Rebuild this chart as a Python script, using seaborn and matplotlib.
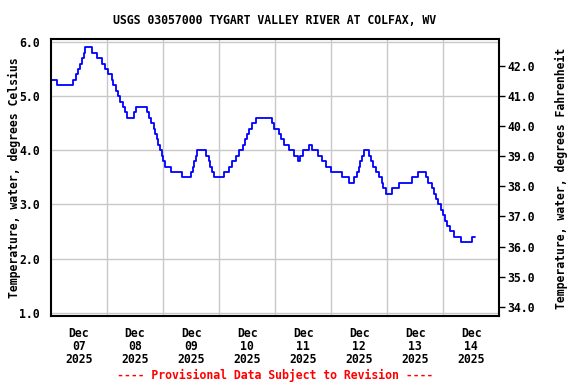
import numpy as np
import pandas as pd
import matplotlib
matplotlib.use("Agg")
import matplotlib.pyplot as plt
import matplotlib.dates as mdates
import seaborn as sns

# ---- data ----
start_time = "2025-12-07 00:00"
change_hours = [0, 2.7, 9.6, 10.7, 11.6, 12.4, 13.3, 14.0, 14.7, 17.6, 19.9, 21.7, 23.3,
                24.6, 26.1, 26.7, 28.0, 28.9, 29.6, 30.7, 31.7, 32.7, 35.6, 36.4, 41.0,
                42.1, 43.0, 43.9, 44.7, 45.3, 46.0, 46.7, 47.4, 47.9, 49.0, 51.3, 56.0,
                59.9, 60.7, 61.4, 62.0, 62.7, 66.4, 67.6, 68.1, 69.0, 69.9, 71.3, 74.1,
                76.1, 77.6, 79.3, 80.4, 82.2, 83.0, 83.9, 84.7, 86.1, 87.6, 94.7, 95.6,
                97.6, 98.4, 99.6, 101.9, 104.1, 105.6, 106.7, 107.9, 110.4, 111.6, 114.4,
                115.9, 117.6, 120.1, 124.7, 127.6, 129.9, 131.0, 131.9, 132.4, 133.0,
                134.1, 136.1, 137.0, 138.1, 139.3, 140.4, 141.6, 142.4, 143.3, 145.9,
                149.0, 154.7, 157.0, 160.4, 161.3, 163.0, 163.9, 164.7, 165.9, 167.0,
                167.9, 168.7, 169.6, 170.7, 172.7, 175.6, 180.2, 181.6]
temp_c = [5.3, 5.2, 5.3, 5.4, 5.5, 5.6, 5.7, 5.8, 5.9, 5.8, 5.7, 5.6, 5.5,
          5.4, 5.3, 5.2, 5.1, 5.0, 4.9, 4.8, 4.7, 4.6, 4.7, 4.8, 4.7,
          4.6, 4.5, 4.4, 4.3, 4.2, 4.1, 4.0, 3.9, 3.8, 3.7, 3.6, 3.5,
          3.6, 3.7, 3.8, 3.9, 4.0, 3.9, 3.8, 3.7, 3.6, 3.5, 3.5, 3.6,
          3.7, 3.8, 3.9, 4.0, 4.1, 4.2, 4.3, 4.4, 4.5, 4.6, 4.5, 4.4,
          4.3, 4.2, 4.1, 4.0, 3.9, 3.8, 3.9, 4.0, 4.1, 4.0, 3.9,
          3.8, 3.7, 3.6, 3.5, 3.4, 3.5, 3.6, 3.7, 3.8, 3.9,
          4.0, 3.9, 3.8, 3.7, 3.6, 3.5, 3.4, 3.3, 3.2, 3.3,
          3.4, 3.5, 3.6, 3.5, 3.4, 3.3, 3.2, 3.1, 3.0, 2.9,
          2.8, 2.7, 2.6, 2.5, 2.4, 2.3, 2.4, 2.4]
day_labels = ["Dec\n07\n2025", "Dec\n08\n2025", "Dec\n09\n2025", "Dec\n10\n2025",
              "Dec\n11\n2025", "Dec\n12\n2025", "Dec\n13\n2025", "Dec\n14\n2025"]
celsius_ticks = [1.0, 2.0, 3.0, 4.0, 5.0, 6.0]
fahrenheit_ticks = [34.0, 35.0, 36.0, 37.0, 38.0, 39.0, 40.0, 41.0, 42.0]

title = "USGS 03057000 TYGART VALLEY RIVER AT COLFAX, WV"
left_label = "Temperature, water, degrees Celsius"
right_label = "Temperature, water, degrees Fahrenheit"
footer = "---- Provisional Data Subject to Revision ----"

# ---- figure ----
sns.set_style("white")
plt.rcParams["font.family"] = ["DejaVu Sans Mono"]
plt.rcParams["font.weight"] = "bold"
plt.rcParams["text.color"] = "black"
plt.rcParams["xtick.color"] = "black"
plt.rcParams["ytick.color"] = "black"
FS = 8.3

W, H = 576, 384
fig = plt.figure(figsize=(W / 100, H / 100), dpi=100)
L, R, T, B = 51, 499.3, 39.3, 315.7
ax = fig.add_axes([L / W, 1 - B / H, (R - L) / W, (B - T) / H])

t0 = pd.Timestamp(start_time)
df = pd.DataFrame({"time": t0 + pd.to_timedelta(change_hours, unit="h"),
                   "temp": temp_c})
sns.lineplot(data=df, x="time", y="temp", ax=ax, drawstyle="steps-post",
             color="#0000ff", linewidth=1.3)

xmin = t0
xmax = t0 + pd.Timedelta(days=8)
ax.set_xlim(mdates.date2num(xmin), mdates.date2num(xmax))
ylo, yhi = 0.944, 6.05
ax.set_ylim(ylo, yhi)

midnights = [mdates.date2num(t0 + pd.Timedelta(days=d)) for d in range(1, 8)]
noons = [mdates.date2num(t0 + pd.Timedelta(days=d, hours=12)) for d in range(8)]
ax.set_xticks(midnights)
ax.set_xticklabels([""] * len(midnights))
ax.set_xticks(noons, minor=True)
ax.set_xticklabels(day_labels, minor=True, fontsize=FS, fontweight="bold",
                   linespacing=1.0, color="black")
ax.tick_params(axis="x", which="both", length=0)
ax.tick_params(axis="x", which="minor", pad=8)

ax.set_yticks(celsius_ticks)
ax.set_yticklabels([f"{v:.1f}" for v in celsius_ticks], fontsize=FS,
                   fontweight="bold", color="black")
ax.tick_params(axis="y", length=0, pad=8)

ax.grid(True, which="major", color="#c8c8c8", linewidth=1.0)
ax.set_xlabel("")
ax.set_ylabel("")
for s in ax.spines.values():
    s.set_color("black")
    s.set_linewidth(1.5)

ax2 = ax.twinx()
ax2.set_ylim(ylo * 1.8 + 32, yhi * 1.8 + 32)
ax2.set_yticks(fahrenheit_ticks)
ax2.set_yticklabels([f"{v:.1f}" for v in fahrenheit_ticks], fontsize=FS,
                    fontweight="bold", color="black")
ax2.tick_params(axis="y", direction="out", length=4, width=1, pad=2, colors="black")
ax2.grid(False)
for s in ax2.spines.values():
    s.set_visible(False)

fig.text(275 / W, 1 - 21 / H, title, ha="center", va="center", fontsize=FS,
         fontweight="bold", color="black")
fig.text(14 / W, 1 - 178 / H, left_label, rotation=90, ha="center", va="center",
         fontsize=FS, fontweight="bold", color="black")
fig.text(561 / W, 1 - 178 / H, right_label, rotation=90, ha="center", va="center",
         fontsize=FS, fontweight="bold", color="black")
fig.text(275 / W, 1 - 375 / H, footer, ha="center", va="center", fontsize=FS,
         fontweight="bold", color="#ff0000")

fig.savefig("out.png", dpi=100)
